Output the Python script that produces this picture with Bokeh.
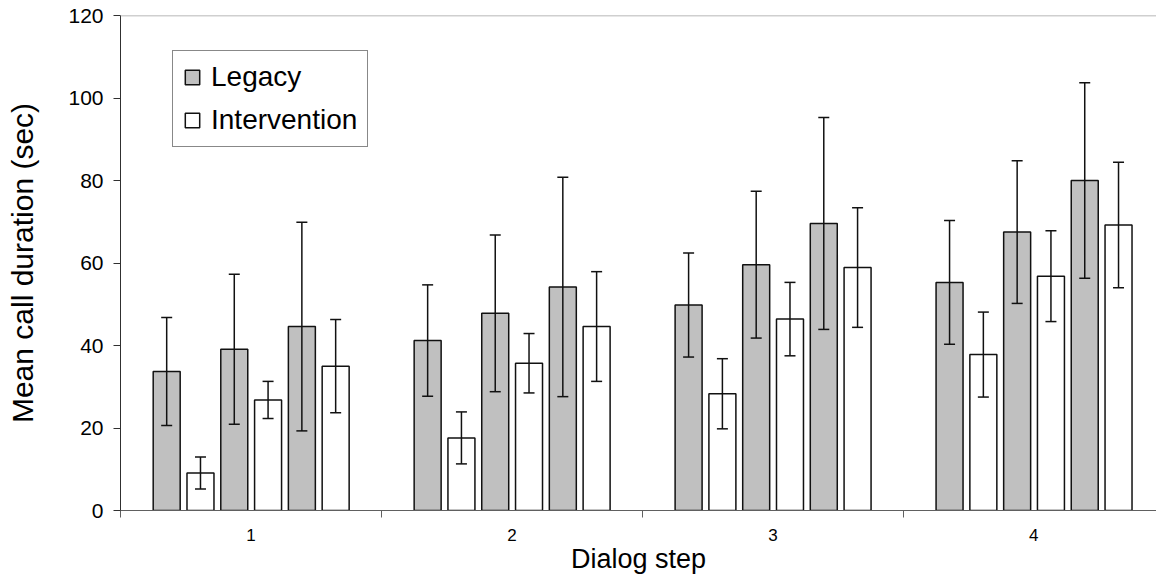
from bokeh.plotting import figure
from bokeh.models import (ColumnDataSource, Range1d, FixedTicker, Whisker, TeeHead,
                          Legend, LegendItem, Span)
from bokeh.embed import file_html
from bokeh.resources import INLINE

# ---- data ----
steps = ["1", "2", "3", "4"]
legacy_mean = [[33.7, 39.1, 44.6], [41.2, 47.8, 54.2], [49.8, 59.6, 69.6], [55.3, 67.5, 80.0]]
legacy_err = [[13.1, 18.2, 25.3], [13.5, 19.0, 26.6], [12.6, 17.8, 25.7], [15.0, 17.3, 23.7]]
interv_mean = [[9.1, 26.8, 35.0], [17.6, 35.7, 44.6], [28.3, 46.4, 58.9], [37.8, 56.8, 69.2]]
interv_err = [[3.9, 4.5, 11.3], [6.3, 7.2, 13.3], [8.5, 8.9, 14.5], [10.3, 11.0, 15.2]]
y_ticks = [0, 20, 40, 60, 80, 100, 120]

# ---- layout constants ----
FONT = "Liberation Sans"
FIRST = 0.177
PITCH = 0.1295
BAR_W = 0.1034
Y_MAX = 120


def build(means, errs, parity):
    xs, tops, ups, lows = [], [], [], []
    for g, (mrow, erow) in enumerate(zip(means, errs)):
        for j, (m, e) in enumerate(zip(mrow, erow)):
            xs.append(g + FIRST + (2 * j + parity) * PITCH)
            tops.append(m)
            ups.append(m + e)
            lows.append(m - e)
    return ColumnDataSource(dict(x=xs, top=tops, upper=ups, lower=lows))


src_leg = build(legacy_mean, legacy_err, 0)
src_int = build(interv_mean, interv_err, 1)

p = figure(width=1156, height=580, x_range=Range1d(0, 3.97), y_range=Range1d(0, Y_MAX),
           output_backend="svg", toolbar_location=None,
           min_border_left=120, min_border_right=0, min_border_top=15, min_border_bottom=70)
p.outline_line_color = None
p.xgrid.visible = False
p.ygrid.visible = False
p.background_fill_color = "white"
p.border_fill_color = "white"

r_leg = p.vbar(x="x", top="top", width=BAR_W, bottom=0, source=src_leg,
               fill_color="#c0c0c0", line_color="#111111", line_width=1.5)
r_int = p.vbar(x="x", top="top", width=BAR_W, bottom=0, source=src_int,
               fill_color="white", line_color="#111111", line_width=1.5)

for src in (src_leg, src_int):
    w = Whisker(base="x", upper="upper", lower="lower", source=src, dimension="height",
                line_color="#111111", line_width=1.5, level="overlay",
                upper_head=TeeHead(size=11, line_color="#111111", line_width=1.5),
                lower_head=TeeHead(size=11, line_color="#111111", line_width=1.5))
    p.add_layout(w)

p.add_layout(Span(location=Y_MAX, dimension="width", line_color="#a0a0a0", line_width=1.5))

# y axis
ya = p.yaxis[0]
ya.ticker = FixedTicker(ticks=y_ticks)
ya.major_tick_out = 7
ya.major_tick_in = 0
ya.minor_tick_line_color = None
ya.axis_line_color = "#303030"
ya.major_tick_line_color = "#303030"
ya.major_label_text_font = FONT
ya.major_label_text_font_size = "21px"
ya.major_label_text_color = "black"
ya.major_label_standoff = 10
ya.axis_label = "Mean call duration (sec)"
ya.axis_label_text_font = FONT
ya.axis_label_text_font_size = "30px"
ya.axis_label_text_font_style = "normal"
ya.axis_label_text_color = "black"
ya.axis_label_standoff = 26

# x axis: labels at group centres, ticks at group boundaries
xa = p.xaxis[0]
centers = [i + 0.5 for i in range(len(steps))]
xa.ticker = FixedTicker(ticks=centers, minor_ticks=list(range(len(steps) + 1)))
xa.major_label_overrides = {c: s for c, s in zip(centers, steps)}
xa.major_tick_line_color = None
xa.major_tick_out = 7
xa.major_tick_in = 0
xa.minor_tick_out = 7
xa.minor_tick_in = 0
xa.minor_tick_line_color = "#606060"
xa.axis_line_color = "#606060"
xa.major_label_text_font = FONT
xa.major_label_text_font_size = "17px"
xa.major_label_text_color = "black"
xa.major_label_standoff = 11
xa.axis_label = "Dialog step"
xa.axis_label_text_font = FONT
xa.axis_label_text_font_size = "27px"
xa.axis_label_text_font_style = "normal"
xa.axis_label_text_color = "black"
xa.axis_label_standoff = 0

legend = Legend(items=[LegendItem(label="Legacy", renderers=[r_leg]),
                       LegendItem(label="Intervention", renderers=[r_int])],
                location=(52, 363), orientation="vertical",
                label_text_font=FONT, label_text_font_size="28px", label_text_color="black",
                glyph_width=18, glyph_height=18, label_height=28, label_standoff=10,
                spacing=11, padding=10, margin=0,
                border_line_color="#111111", border_line_width=1.5,
                background_fill_color="white", background_fill_alpha=1.0)
p.add_layout(legend, "center")

open("out.html", "w").write(file_html(p, INLINE))
